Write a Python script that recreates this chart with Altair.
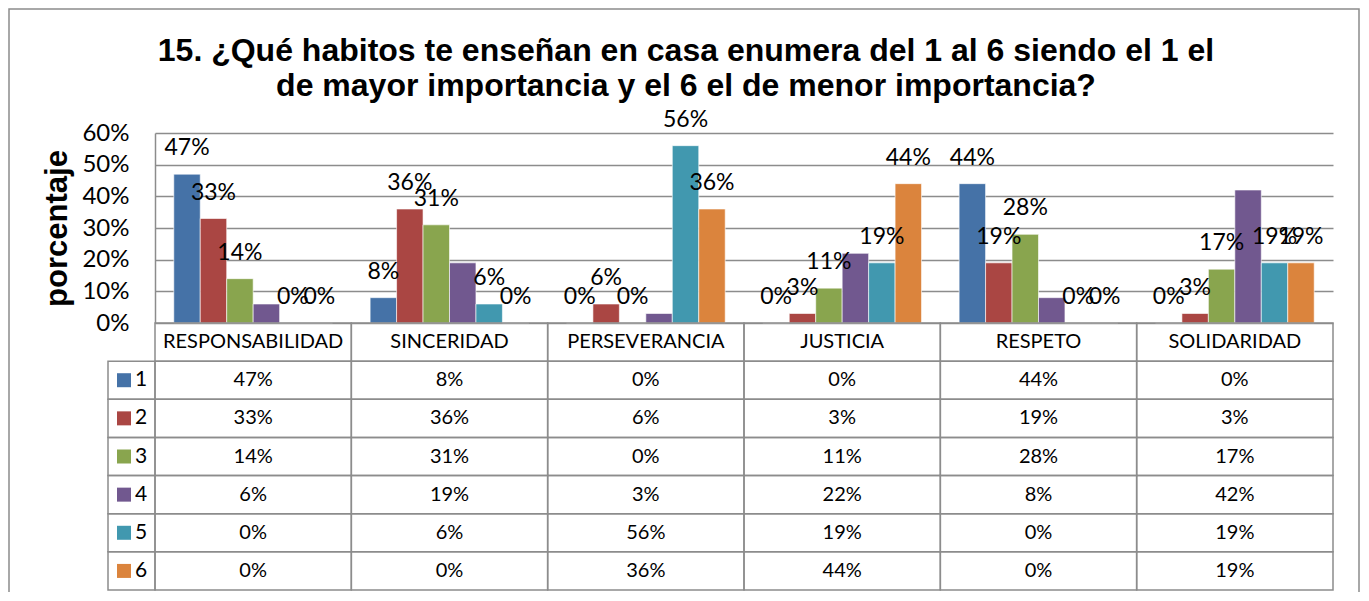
import altair as alt
import pandas as pd

TITLE = [
    "15. ¿Qué habitos te enseñan en casa enumera del 1 al 6 siendo el 1 el",
    "de mayor importancia y el 6 el de menor importancia?",
]
Y_TITLE = "porcentaje"
categories = ["RESPONSABILIDAD", "SINCERIDAD", "PERSEVERANCIA", "JUSTICIA", "RESPETO", "SOLIDARIDAD"]
series_names = ["1", "2", "3", "4", "5", "6"]
s1 = [47, 8, 0, 0, 44, 0]
s2 = [33, 36, 6, 3, 19, 3]
s3 = [14, 31, 0, 11, 28, 17]
s4 = [6, 19, 3, 22, 8, 42]
s5 = [0, 6, 56, 19, 0, 19]
s6 = [0, 0, 36, 44, 0, 19]
y_ticks = [0, 0.1, 0.2, 0.3, 0.4, 0.5, 0.6]
colors = ["#4572A7", "#AA4643", "#89A54E", "#71588F", "#4198AF", "#DB843D"]

rows = []
for name, vals in zip(series_names, [s1, s2, s3, s4, s5, s6]):
    for c, v in zip(categories, vals):
        rows.append({"category": c, "series": name, "row": name, "value": v / 100, "text": f"{v}%",
                     "kind": "val"})
df = pd.DataFrame(rows)

hdr = pd.DataFrame({"category": categories, "row": ["hdr"] * len(categories), "text": categories,
                    "kind": ["hdr"] * len(categories)})
table_df = pd.concat([hdr, df[["category", "row", "text", "kind"]]], ignore_index=True)
leg_df = pd.DataFrame({"series": series_names, "row": series_names})

W = 1178
PLOT_H = 190
TABLE_H = 267
H = PLOT_H + TABLE_H
GRID = "#8c8c8c"
row_domain = ["hdr"] + series_names

x_enc = alt.X("category:N", sort=categories,
              scale=alt.Scale(domain=categories, paddingInner=0, paddingOuter=0), axis=None)
xoff = alt.XOffset("series:N", sort=series_names,
                   scale=alt.Scale(domain=series_names, paddingInner=0, paddingOuter=0.71))
color = alt.Color("series:N", scale=alt.Scale(domain=series_names, range=colors), legend=None)
yscale = alt.Scale(domain=[0, 0.6], range=[PLOT_H, 0], nice=False, zero=True)
yrow = alt.Y("row:N", scale=alt.Scale(domain=row_domain, range=[PLOT_H, H], paddingInner=0, paddingOuter=0),
             axis=None)

border = alt.Chart(pd.DataFrame({"a": [0]})).mark_rect(fillOpacity=0, stroke=GRID, strokeWidth=1.5).encode(
    x=alt.value(-146), x2=alt.value(W + 26), y=alt.value(-124), y2=alt.value(H + 40)
)

bars = alt.Chart(df).mark_bar(stroke="white", strokeWidth=0.6).encode(
    x=x_enc,
    xOffset=xoff,
    y=alt.Y("value:Q", scale=yscale,
            axis=alt.Axis(values=y_ticks, format=".0%", title=Y_TITLE, grid=True, gridColor=GRID,
                          gridWidth=1.5, domainColor=GRID, domainWidth=1.5, ticks=False, tickSize=0,
                          labelPadding=26, labelFont="Lato", labelFontSize=24, labelColor="black",
                          titleFont="Liberation Sans", titleFontSize=31, titleFontWeight="bold",
                          titleColor="black", titlePadding=8)),
    color=color,
)

labels = alt.Chart(df).transform_filter(alt.datum.series != "4").mark_text(
    font="Lato", fontSize=23, dy=-26, baseline="middle", color="black"
).encode(
    x=x_enc, xOffset=xoff, y=alt.Y("value:Q", scale=yscale, axis=None), text="text:N"
)

cells = alt.Chart(table_df).mark_rect(fillOpacity=0, stroke=GRID, strokeWidth=1.5).encode(x=x_enc, y=yrow)
cell_text = alt.Chart(table_df).mark_text(font="Lato", fontSize=20, color="black", baseline="middle").encode(
    x=x_enc, y=yrow, text="text:N"
)

leg_cells = alt.Chart(leg_df).mark_rect(fillOpacity=0, stroke=GRID, strokeWidth=1.5).encode(
    x=alt.value(-47), x2=alt.value(0), y=yrow
)
leg_sq = alt.Chart(leg_df).mark_square(size=196, opacity=1).encode(x=alt.value(-31), y=yrow, color=color)
leg_txt = alt.Chart(leg_df).mark_text(font="Lato", fontSize=21, color="black", align="left",
                                      baseline="middle").encode(
    x=alt.value(-20), y=yrow, text="series:N"
)

chart = alt.layer(border, bars, labels, cells, cell_text, leg_cells, leg_sq, leg_txt).resolve_scale(
    y="independent"
).properties(
    width=W,
    height=H,
    title=alt.Title(TITLE, anchor="middle", frame="group", dx=-58, offset=-95, font="Liberation Sans",
                    fontSize=32, fontWeight="bold", color="black", lineHeight=35),
    padding={"left": 147, "top": 125, "right": 28, "bottom": 2},
    autosize=alt.AutoSizeParams(type="none"),
).configure_view(stroke=None)

chart.save("out.html", embed_options={"renderer": "svg", "actions": False})
